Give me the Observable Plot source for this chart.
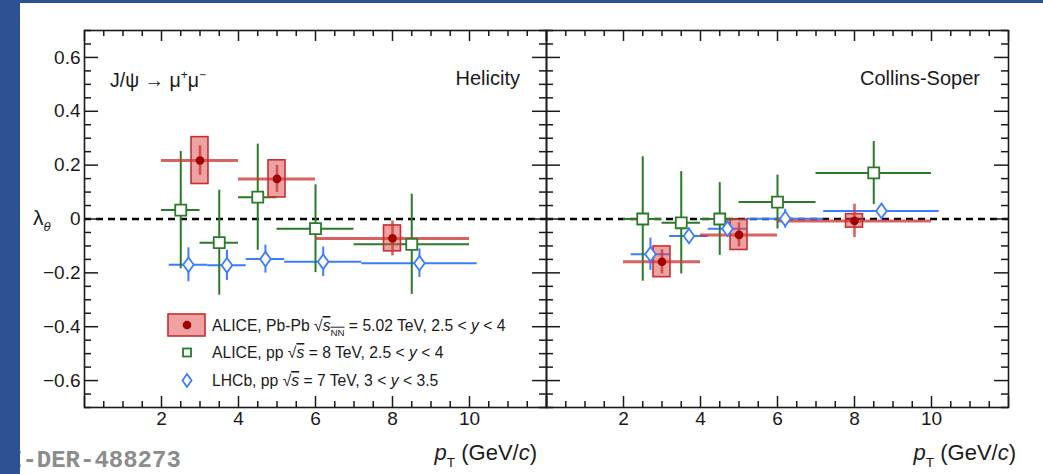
<!DOCTYPE html>
<html>
<head>
<meta charset="utf-8">
<script src="https://cdn.jsdelivr.net/npm/d3@7"></script>
<script src="https://cdn.jsdelivr.net/npm/@observablehq/plot@0.6"></script>
<style>
  html, body { margin: 0; padding: 0; background: #ffffff; }
  body { width: 1043px; height: 474px; overflow: hidden; position: relative; }
  #chart { position: absolute; left: 0; top: 0; }
  .edgeL { position: absolute; left: 0; top: 0; width: 20px; height: 474px; background: #2c5294; }
  .edgeT { position: absolute; left: 0; top: 0; width: 1043px; height: 3px; background: #2c5294; }
</style>
</head>
<body>
<div id="chart"></div>
<div class="edgeL"></div>
<div class="edgeT"></div>
<script>
// ---------------- data ----------------
const frames = ["Helicity", "Collins-Soper"];

// ALICE Pb-Pb 5.02 TeV
const pbpbX = [3, 5, 8];
const pbpbLo = [2, 4, 6];
const pbpbHi = [4, 6, 10];
const pbpbHelY = [0.217, 0.149, -0.072];
const pbpbHelStat = [0.055, 0.05, 0.065];
const pbpbHelSyst = [0.087, 0.069, 0.048];
const pbpbCsY = [-0.159, -0.059, -0.007];
const pbpbCsStat = [0.045, 0.045, 0.062];
const pbpbCsSyst = [0.057, 0.056, 0.025];
const pbpbSystHalfWidth = 0.22;

// ALICE pp 8 TeV
const pp8X = [2.5, 3.5, 4.5, 6, 8.5];
const pp8Lo = [2, 3, 4, 5, 7];
const pp8Hi = [3, 4, 5, 7, 10];
const pp8HelY = [0.033, -0.088, 0.081, -0.036, -0.094];
const pp8HelErr = [0.218, 0.195, 0.197, 0.163, 0.186];
const pp8CsY = [0.0, -0.014, 0.0, 0.063, 0.171];
const pp8CsErr = [0.231, 0.19, 0.135, 0.1, 0.117];

// LHCb pp 7 TeV
const lhcbX = [2.7, 3.7, 4.7, 6.2, 8.7];
const lhcbLo = [2.2, 3.2, 4.2, 5.2, 7.2];
const lhcbHi = [3.2, 4.2, 5.2, 7.2, 10.2];
const lhcbHelY = [-0.170, -0.172, -0.149, -0.159, -0.164];
const lhcbHelErr = [0.063, 0.056, 0.052, 0.055, 0.053];
const lhcbCsY = [-0.131, -0.063, -0.036, 0.001, 0.030];
const lhcbCsErr = [0.06, 0.03, 0.03, 0.035, 0.02];

// axes
const xTickLabels = [2, 4, 6, 8, 10];
const yTickLabels = [-0.6, -0.4, -0.2, 0, 0.2, 0.4, 0.6];
const xDomain = [0, 12];
const yDomain = [-0.7, 0.7];

// ---------------- tables ----------------
function rows(frame, X, lo, hi, Y, err, syst) {
  return X.map((x, i) => ({frame, x, lo: lo[i], hi: hi[i], y: Y[i], err: err[i], syst: syst ? syst[i] : 0}));
}
const pbpb = [
  ...rows(frames[0], pbpbX, pbpbLo, pbpbHi, pbpbHelY, pbpbHelStat, pbpbHelSyst),
  ...rows(frames[1], pbpbX, pbpbLo, pbpbHi, pbpbCsY, pbpbCsStat, pbpbCsSyst)
];
const pp8 = [
  ...rows(frames[0], pp8X, pp8Lo, pp8Hi, pp8HelY, pp8HelErr),
  ...rows(frames[1], pp8X, pp8Lo, pp8Hi, pp8CsY, pp8CsErr)
];
const lhcb = [
  ...rows(frames[0], lhcbX, lhcbLo, lhcbHi, lhcbHelY, lhcbHelErr),
  ...rows(frames[1], lhcbX, lhcbLo, lhcbHi, lhcbCsY, lhcbCsErr)
];

const xMajor = d3.range(xDomain[0], xDomain[1] + 0.001, 2);
const xMinor = d3.range(xDomain[0], xDomain[1] + 0.001, 0.5).filter(v => Math.abs(v / 2 - Math.round(v / 2)) > 1e-6);
const yMajor = d3.range(-0.6, 0.601, 0.2).map(v => +v.toFixed(2));
const yMinor = d3.range(-0.7, 0.701, 0.05).map(v => +v.toFixed(3)).filter(v => !yMajor.some(m => Math.abs(m - v) < 1e-6));

// ---------------- layout ----------------
const W = 1043, H = 474;
const mL = 84, mR = 35, mT = 30, mB = 67;
const plotH = H - mT - mB;
const panelW = (W - mL - mR) / 2;

const RED = "#a00000", REDLINE = "rgba(205,55,55,0.78)", REDFILL = "rgba(222,70,70,0.5)", REDEDGE = "#c62f2f";
const GREEN = "#2a7a2a", BLUE = "#3a7dff";
const INK = "#1a1a1a";

const diamond = {
  draw(ctx, size) {
    const k = Math.sqrt(size / Math.PI) / 5;
    const w = 5.3 * k, h = 7.3 * k;
    ctx.moveTo(0, -h); ctx.lineTo(w, 0); ctx.lineTo(0, h); ctx.lineTo(-w, 0); ctx.closePath();
  }
};

const chart = Plot.plot({
  width: W, height: H,
  marginLeft: mL, marginRight: mR, marginTop: mT, marginBottom: mB,
  style: {fontFamily: "'Liberation Sans', Arial, Helvetica, sans-serif", background: "white", overflow: "visible", color: INK},
  x: {domain: xDomain, label: null},
  y: {domain: yDomain, label: null},
  fx: {domain: frames, padding: 0, axis: null, label: null},
  marks: [
    Plot.ruleY([0], {stroke: "black", strokeWidth: 2.6, strokeDasharray: "7,5"}),
    // LHCb
    Plot.ruleY(lhcb, {fx: "frame", y: "y", x1: "lo", x2: "hi", stroke: BLUE, strokeWidth: 2}),
    Plot.ruleX(lhcb, {fx: "frame", x: "x", y1: d => d.y - d.err, y2: d => d.y + d.err, stroke: BLUE, strokeWidth: 2}),
    // ALICE pp
    Plot.ruleY(pp8, {fx: "frame", y: "y", x1: "lo", x2: "hi", stroke: GREEN, strokeWidth: 2}),
    Plot.ruleX(pp8, {fx: "frame", x: "x", y1: d => d.y - d.err, y2: d => d.y + d.err, stroke: GREEN, strokeWidth: 2}),
    // ALICE Pb-Pb
    Plot.ruleY(pbpb, {fx: "frame", y: "y", x1: "lo", x2: "hi", stroke: REDLINE, strokeWidth: 3}),
    Plot.rect(pbpb, {fx: "frame", x1: d => d.x - pbpbSystHalfWidth, x2: d => d.x + pbpbSystHalfWidth,
      y1: d => d.y - d.syst, y2: d => d.y + d.syst, fill: REDFILL, stroke: REDEDGE, strokeWidth: 1.6}),
    Plot.ruleX(pbpb, {fx: "frame", x: "x", y1: d => d.y - d.err, y2: d => d.y + d.err, stroke: REDLINE, strokeWidth: 2.6}),
    Plot.dot(pp8, {fx: "frame", x: "x", y: "y", symbol: "square", r: 6.2, fill: "white", stroke: GREEN, strokeWidth: 1.8}),
    Plot.dot(lhcb, {fx: "frame", x: "x", y: "y", symbol: diamond, r: 5, fill: "white", stroke: BLUE, strokeWidth: 1.8}),
    Plot.dot(pbpb, {fx: "frame", x: "x", y: "y", r: 4.3, fill: RED}),
    // ticks (inward, ROOT style)
    Plot.tickX(xMajor, {x: d => d, insetTop: plotH - 11, stroke: INK, strokeWidth: 1.5}),
    Plot.tickX(xMinor, {x: d => d, insetTop: plotH - 6, stroke: INK, strokeWidth: 1.5}),
    Plot.tickX(xMajor, {x: d => d, insetBottom: plotH - 11, stroke: INK, strokeWidth: 1.5}),
    Plot.tickX(xMinor, {x: d => d, insetBottom: plotH - 6, stroke: INK, strokeWidth: 1.5}),
    Plot.tickY(yMajor, {y: d => d, insetRight: panelW - 14, stroke: INK, strokeWidth: 1.5}),
    Plot.tickY(yMinor, {y: d => d, insetRight: panelW - 7, stroke: INK, strokeWidth: 1.5}),
    Plot.tickY(yMajor, {y: d => d, insetLeft: panelW - 14, stroke: INK, strokeWidth: 1.5}),
    Plot.tickY(yMinor, {y: d => d, insetLeft: panelW - 7, stroke: INK, strokeWidth: 1.5}),
    Plot.frame({stroke: INK, strokeWidth: 1.6}),
    Plot.axisX({ticks: xTickLabels, tickSize: 0, tickPadding: 4, fontSize: 19, fill: INK, label: null}),
    Plot.axisY({ticks: yTickLabels, tickSize: 0, tickPadding: 4, fontSize: 19, fill: INK, anchor: "left", label: null,
      tickFormat: d => d === 0 ? "0" : d3.format(".1f")(d)})
  ]
});
document.getElementById("chart").appendChild(chart);

// ---------------- annotations ----------------
const svg = d3.select(chart);
const ann = svg.append("g").attr("font-family", "'Liberation Sans', Arial, Helvetica, sans-serif")
  .attr("fill", INK).attr("text-anchor", "start");

function rich(x, y, parts, size, anchor = "start", g = ann) {
  const t = g.append("text").attr("x", x).attr("y", y).attr("font-size", size).attr("text-anchor", anchor);
  let shift = 0;
  for (const p of parts) {
    const target = p.sub ? size * 0.3 : p.sup ? -size * 0.42 : 0;
    const ts = t.append("tspan").text(p.t).attr("dy", target - shift);
    shift = target;
    if (p.sub || p.sup) ts.attr("font-size", size * 0.62);
    if (p.italic) ts.attr("font-style", "italic");
    if (p.overline) ts.attr("text-decoration", "overline");
  }
  return t;
}

rich(110, 87, [{t: "J/ψ → μ"}, {t: "+", sup: true}, {t: "μ"}, {t: "−", sup: true}], 19.5);
rich(520, 85, [{t: frames[0]}], 20, "end");
rich(980, 85, [{t: frames[1]}], 20, "end");
rich(33, 225, [{t: "λ"}, {t: "θ", sub: true, italic: true}], 21);
const ptLabel = [{t: "p", italic: true}, {t: "T", sub: true}, {t: " (GeV/"}, {t: "c", italic: true}, {t: ")"}];
rich(537, 460, ptLabel, 22, "end");
rich(1016, 460, ptLabel, 22, "end");

// legend
const lg = ann.append("g");
lg.append("rect").attr("x", 168).attr("y", 314).attr("width", 37).attr("height", 22)
  .attr("fill", REDFILL).attr("stroke", REDEDGE).attr("stroke-width", 1.6);
lg.append("circle").attr("cx", 187).attr("cy", 325).attr("r", 4.3).attr("fill", RED);
lg.append("rect").attr("x", 183).attr("y", 348.5).attr("width", 8).attr("height", 8)
  .attr("fill", "white").attr("stroke", GREEN).attr("stroke-width", 1.8);
lg.append("path").attr("d", "M187,374 L191.5,380.5 L187,387 L182.5,380.5 Z")
  .attr("fill", "white").attr("stroke", BLUE).attr("stroke-width", 1.8);
rich(212, 331, [{t: "ALICE, Pb-Pb √"}, {t: "s", italic: true, overline: true}, {t: "NN", sub: true, overline: true},
  {t: " = 5.02 TeV, 2.5 < "}, {t: "y", italic: true}, {t: " < 4"}], 15.7, "start", lg);
rich(212, 358, [{t: "ALICE, pp √"}, {t: "s", italic: true, overline: true}, {t: " = 8 TeV, 2.5 < "}, {t: "y", italic: true}, {t: " < 4"}], 15.7, "start", lg);
rich(212, 386, [{t: "LHCb, pp √"}, {t: "s", italic: true, overline: true}, {t: " = 7 TeV, 3 < "}, {t: "y", italic: true}, {t: " < 3.5"}], 15.7, "start", lg);

// watermark
svg.append("text").attr("x", 8).attr("y", 467).attr("text-anchor", "start")
  .attr("font-family", "'Liberation Mono', 'DejaVu Sans Mono', monospace").attr("font-weight", "bold")
  .attr("font-size", 24).attr("fill", "#8c8c8c").text("I-DER-488273");
</script>
</body>
</html>
